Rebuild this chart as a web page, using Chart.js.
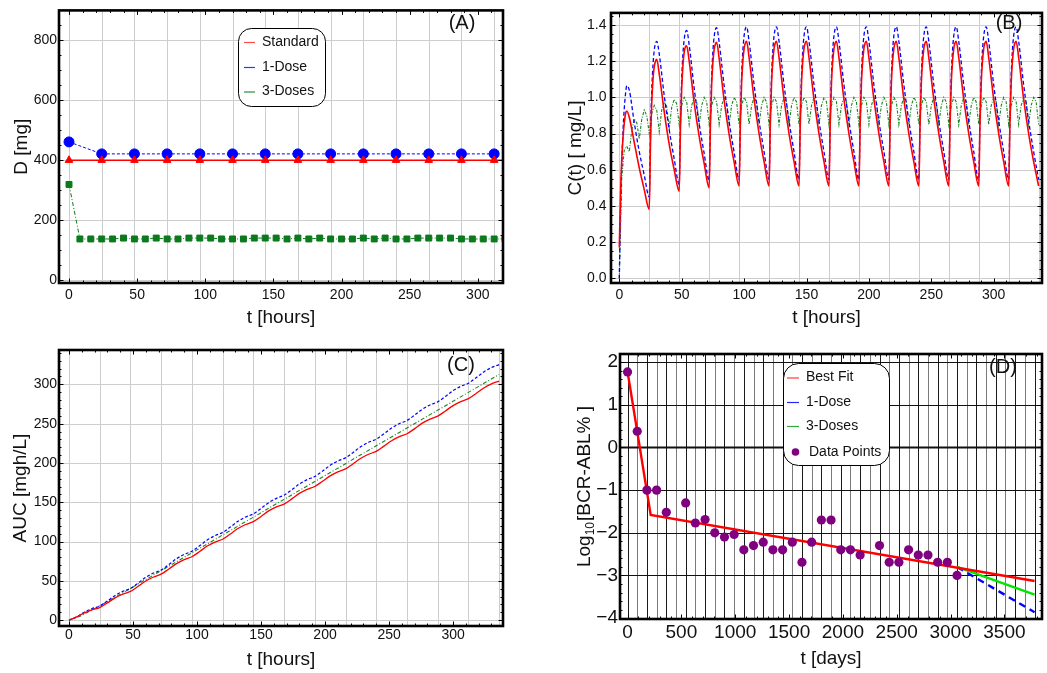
<!DOCTYPE html>
<html>
<head>
<meta charset="utf-8">
<script src="https://cdn.jsdelivr.net/npm/chart.js@4.4.1/dist/chart.umd.min.js"></script>
<style>
  html, body { margin: 0; padding: 0; background: #fff; }
  #wrap { position: relative; width: 1047px; height: 673px; overflow: hidden; background: #fff; }
  canvas { position: absolute; }
</style>
</head>
<body>
<div id="wrap">
  <canvas id="cA" width="523" height="336" style="left:0;top:0;width:523px;height:336px"></canvas>
  <canvas id="cB" width="524" height="336" style="left:523px;top:0;width:524px;height:336px"></canvas>
  <canvas id="cC" width="523" height="337" style="left:0;top:336px;width:523px;height:337px"></canvas>
  <canvas id="cD" width="524" height="337" style="left:523px;top:336px;width:524px;height:337px"></canvas>
</div>
<script>
const FONT = "'Liberation Sans', Arial, Helvetica, sans-serif";
// regular time grid helper (sampling instants, tick and grid positions)
const steps = (a, b, s) => { const out = []; for (let v = a; v <= b + 1e-9; v += s) out.push(+v.toFixed(6)); return out; };

// ---------- (A) dose per administration ----------
const hoursStandardA = steps(0, 336, 24);
const standardA = [400, 400, 400, 400, 400, 400, 400, 400, 400, 400, 400, 400, 400, 400, 400];
const hoursOneDoseA = steps(0, 312, 24);
const oneDoseA = [461, 421, 421, 421, 421, 421, 421, 421, 421, 421, 421, 421, 421, 421];
const hoursThreeDosesA = steps(0, 336, 8);
const threeDosesA = [319, 137, 137, 137, 137, 140, 137, 137, 140, 137, 137, 140, 140, 140, 137, 137, 137,
  140, 140, 140, 137, 140, 137, 140, 137, 137, 137, 140, 137, 140, 137, 137, 140, 140, 140, 140,
  137, 137, 137, 137, 137, 137, 137];
const xTicksA = [0, 50, 100, 150, 200, 250, 300];
const yTicksA = [0, 200, 400, 600, 800];

// ---------- (B) plasma concentration ----------
const hoursB = [
  0, 1, 2, 3, 4, 5, 6, 8, 12, 16, 20,
  24, 25, 26, 27, 28, 29, 30, 32, 36, 40, 44,
  48, 49, 50, 51, 52, 53, 54, 56, 60, 64, 68,
  72, 73, 74, 75, 76, 77, 78, 80, 84, 88, 92,
  96, 97, 98, 99, 100, 101, 102, 104, 108, 112, 116,
  120, 121, 122, 123, 124, 125, 126, 128, 132, 136, 140,
  144, 145, 146, 147, 148, 149, 150, 152, 156, 160, 164,
  168, 169, 170, 171, 172, 173, 174, 176, 180, 184, 188,
  192, 193, 194, 195, 196, 197, 198, 200, 204, 208, 212,
  216, 217, 218, 219, 220, 221, 222, 224, 228, 232, 236,
  240, 241, 242, 243, 244, 245, 246, 248, 252, 256, 260,
  264, 265, 266, 267, 268, 269, 270, 272, 276, 280, 284,
  288, 289, 290, 291, 292, 293, 294, 296, 300, 304, 308,
  312, 313, 314, 315, 316, 317, 318, 320, 324, 328, 332,
  336];
const standardB = [
  0.17, 0.47, 0.66, 0.78, 0.86, 0.91, 0.925, 0.89, 0.75, 0.61, 0.49,
  0.38, 0.75, 0.97, 1.10, 1.17, 1.20, 1.21, 1.13, 0.92, 0.74, 0.60,
  0.48, 0.83, 1.05, 1.18, 1.25, 1.28, 1.285, 1.20, 0.97, 0.785, 0.635,
  0.50, 0.845, 1.07, 1.195, 1.265, 1.295, 1.305, 1.215, 0.985, 0.795, 0.642,
  0.51, 0.85, 1.08, 1.20, 1.27, 1.30, 1.31, 1.22, 0.99, 0.80, 0.645,
  0.51, 0.85, 1.08, 1.20, 1.27, 1.30, 1.31, 1.22, 0.99, 0.80, 0.645,
  0.51, 0.85, 1.08, 1.20, 1.27, 1.30, 1.31, 1.22, 0.99, 0.80, 0.645,
  0.51, 0.85, 1.08, 1.20, 1.27, 1.30, 1.31, 1.22, 0.99, 0.80, 0.645,
  0.51, 0.85, 1.08, 1.20, 1.27, 1.30, 1.31, 1.22, 0.99, 0.80, 0.645,
  0.51, 0.85, 1.08, 1.20, 1.27, 1.30, 1.31, 1.22, 0.99, 0.80, 0.645,
  0.51, 0.85, 1.08, 1.20, 1.27, 1.30, 1.31, 1.22, 0.99, 0.80, 0.645,
  0.51, 0.85, 1.08, 1.20, 1.27, 1.30, 1.31, 1.22, 0.99, 0.80, 0.645,
  0.51, 0.85, 1.08, 1.20, 1.27, 1.30, 1.31, 1.22, 0.99, 0.80, 0.645,
  0.51, 0.85, 1.08, 1.20, 1.27, 1.30, 1.31, 1.22, 0.99, 0.80, 0.645,
  0.51];
const oneDoseB = [
  0.00, 0.38, 0.64, 0.82, 0.94, 1.02, 1.065, 1.04, 0.86, 0.70, 0.57,
  0.45, 0.80, 1.04, 1.18, 1.26, 1.30, 1.31, 1.24, 1.01, 0.82, 0.66,
  0.52, 0.86, 1.10, 1.24, 1.32, 1.36, 1.37, 1.29, 1.05, 0.855, 0.69,
  0.54, 0.875, 1.115, 1.255, 1.335, 1.375, 1.385, 1.305, 1.065, 0.865, 0.697,
  0.545, 0.88, 1.12, 1.26, 1.34, 1.38, 1.39, 1.31, 1.07, 0.87, 0.70,
  0.545, 0.88, 1.12, 1.26, 1.34, 1.38, 1.39, 1.31, 1.07, 0.87, 0.70,
  0.545, 0.88, 1.12, 1.26, 1.34, 1.38, 1.39, 1.31, 1.07, 0.87, 0.70,
  0.545, 0.88, 1.12, 1.26, 1.34, 1.38, 1.39, 1.31, 1.07, 0.87, 0.70,
  0.545, 0.88, 1.12, 1.26, 1.34, 1.38, 1.39, 1.31, 1.07, 0.87, 0.70,
  0.545, 0.88, 1.12, 1.26, 1.34, 1.38, 1.39, 1.31, 1.07, 0.87, 0.70,
  0.545, 0.88, 1.12, 1.26, 1.34, 1.38, 1.39, 1.31, 1.07, 0.87, 0.70,
  0.545, 0.88, 1.12, 1.26, 1.34, 1.38, 1.39, 1.31, 1.07, 0.87, 0.70,
  0.545, 0.88, 1.12, 1.26, 1.34, 1.38, 1.39, 1.31, 1.07, 0.87, 0.70,
  0.545, 0.88, 1.12, 1.26, 1.34, 1.38, 1.39, 1.31, 1.07, 0.87, 0.70,
  0.545];
const hoursThreeDosesB = steps(0, 336, 2);
const threeDosesB = [
  0.00, 0.56, 0.71, 0.73,
  0.70, 0.82, 0.88, 0.86,
  0.77, 0.88, 0.93, 0.90,
  0.80, 0.91, 0.955, 0.93,
  0.81, 0.93, 0.975, 0.95,
  0.83, 0.945, 0.99, 0.965,
  0.85, 0.955, 1.00, 0.975, 0.85, 0.955, 1.00, 0.975, 0.85, 0.955, 1.00, 0.975,
  0.85, 0.955, 1.00, 0.975, 0.85, 0.955, 1.00, 0.975, 0.85, 0.955, 1.00, 0.975,
  0.85, 0.955, 1.00, 0.975, 0.85, 0.955, 1.00, 0.975, 0.85, 0.955, 1.00, 0.975,
  0.85, 0.955, 1.00, 0.975, 0.85, 0.955, 1.00, 0.975, 0.85, 0.955, 1.00, 0.975,
  0.85, 0.955, 1.00, 0.975, 0.85, 0.955, 1.00, 0.975, 0.85, 0.955, 1.00, 0.975,
  0.85, 0.955, 1.00, 0.975, 0.85, 0.955, 1.00, 0.975, 0.85, 0.955, 1.00, 0.975,
  0.85, 0.955, 1.00, 0.975, 0.85, 0.955, 1.00, 0.975, 0.85, 0.955, 1.00, 0.975,
  0.85, 0.955, 1.00, 0.975, 0.85, 0.955, 1.00, 0.975, 0.85, 0.955, 1.00, 0.975,
  0.85, 0.955, 1.00, 0.975, 0.85, 0.955, 1.00, 0.975, 0.85, 0.955, 1.00, 0.975,
  0.85, 0.955, 1.00, 0.975, 0.85, 0.955, 1.00, 0.975, 0.85, 0.955, 1.00, 0.975,
  0.85, 0.955, 1.00, 0.975, 0.85, 0.955, 1.00, 0.975, 0.85, 0.955, 1.00, 0.975,
  0.85, 0.955, 1.00, 0.975, 0.85, 0.955, 1.00, 0.975, 0.85, 0.955, 1.00, 0.975,
  0.85];
const xTicksB = [0, 50, 100, 150, 200, 250, 300];
const yTicksB = [0, 0.2, 0.4, 0.6, 0.8, 1.0, 1.2, 1.4];

// ---------- (C) cumulative AUC ----------
const hoursC = steps(0, 336, 6);
const aucStandardC = [0,
  4.2, 9.3, 13.2, 16.0, 22.0, 28.4, 33.1, 36.6, 43.1, 49.9, 54.9, 58.5,
  65.1, 72.0, 77.1, 80.7, 87.3, 94.3, 99.4, 103.0, 109.7, 116.6, 121.7, 125.4,
  132.0, 139.0, 144.1, 147.7, 154.3, 161.3, 166.4, 170.1, 176.7, 183.6, 188.7, 192.4,
  199.0, 206.0, 211.1, 214.8, 221.4, 228.3, 233.4, 237.1, 243.7, 250.7, 255.8, 259.5,
  266.1, 273.0, 278.1, 281.8, 288.4, 295.4, 300.5, 304.2];
const aucOneDoseC = [0,
  4.3, 10.2, 14.7, 17.9, 24.4, 31.4, 36.6, 40.4, 47.2, 54.6, 60.0, 63.9,
  70.8, 78.2, 83.7, 87.7, 94.6, 102.0, 107.5, 111.5, 118.4, 125.8, 131.3, 135.2,
  142.1, 149.5, 155.0, 159.0, 165.9, 173.3, 178.8, 182.7, 189.6, 197.0, 202.5, 206.5,
  213.4, 220.8, 226.3, 230.2, 237.1, 244.5, 250.0, 254.0, 260.9, 268.3, 273.8, 277.7,
  284.6, 292.0, 297.5, 301.5, 308.4, 315.8, 321.3, 325.2];
const hoursThreeDosesC = steps(0, 336, 8);
const aucThreeDosesC = [0, 4.7, 11.3, 18.3, 25.5, 32.8, 40.3, 47.9, 55.4, 63.0, 70.5, 78.1, 85.7,
  93.2, 100.8, 108.4, 115.9, 123.5, 131.0, 138.6, 146.2, 153.7, 161.3, 168.9, 176.4, 184.0,
  191.5, 199.1, 206.7, 214.2, 221.8, 229.3, 236.9, 244.5, 252.0, 259.6, 267.2, 274.7, 282.3,
  289.8, 297.4, 305.0, 312.5];
const xTicksC = [0, 50, 100, 150, 200, 250, 300];
const yTicksC = [0, 50, 100, 150, 200, 250, 300];

// ---------- (D) BCR-ABL response ----------
const daysD = [0, 90, 180, 270, 360, 540, 630, 720, 810, 900, 990, 1080, 1170, 1260, 1350, 1440,
  1530, 1620, 1710, 1800, 1890, 1980, 2070, 2160, 2340, 2430, 2520, 2610, 2700, 2790, 2880, 2970, 3060];
const logBcrAblD = [1.77, 0.38, -1.0, -1.0, -1.52, -1.30, -1.77, -1.69, -2.0, -2.10, -2.04, -2.40,
  -2.30, -2.22, -2.40, -2.40, -2.22, -2.69, -2.22, -1.70, -1.70, -2.40, -2.40, -2.52, -2.30,
  -2.69, -2.69, -2.40, -2.52, -2.52, -2.69, -2.69, -3.0];
const fitDaysD = [0, 215, 3780];
const bestFitD = [1.78, -1.58, -3.13];
const projDaysD = [3060, 3780];
const oneDoseD = [-2.80, -3.86];
const threeDosesD = [-2.80, -3.45];
const xTicksD = [0, 500, 1000, 1500, 2000, 2500, 3000, 3500];
const yTicksD = [-4, -3, -2, -1, 0, 1, 2];

// ---------- helpers ----------
const pts = (xs, ys) => xs.map((x, i) => ({ x, y: ys[i] }));
const GRID = '#cdcdcd';

function roundRectPath(ctx, x, y, w, h, r) {
  ctx.beginPath();
  ctx.moveTo(x + r, y);
  ctx.arcTo(x + w, y, x + w, y + h, r);
  ctx.arcTo(x + w, y + h, x, y + h, r);
  ctx.arcTo(x, y + h, x, y, r);
  ctx.arcTo(x, y, x + w, y, r);
  ctx.closePath();
}

// grid, frame, frame ticks, panel tag and legend for one panel
function decor(d) {
  return {
    id: 'decor',
    beforeDatasetsDraw(chart) {
      const { ctx, chartArea: a, scales: { x, y } } = chart;
      ctx.save();
      d.vGrid.forEach((v, i) => {
        const p = Math.round(x.getPixelForValue(v)) + 0.5;
        if (p < a.left || p > a.right) return;
        ctx.strokeStyle = d.vGridColor ? d.vGridColor(i) : GRID;
        ctx.lineWidth = 1;
        ctx.beginPath(); ctx.moveTo(p, a.top); ctx.lineTo(p, a.bottom); ctx.stroke();
      });
      d.hGrid.forEach((v) => {
        const p = Math.round(y.getPixelForValue(v)) + 0.5;
        if (p < a.top - 1 || p > a.bottom + 1) return;
        ctx.strokeStyle = d.hGridColor || GRID;
        ctx.lineWidth = d.hGridWidth ? d.hGridWidth(v) : 1;
        ctx.beginPath(); ctx.moveTo(a.left, p); ctx.lineTo(a.right, p); ctx.stroke();
      });
      ctx.restore();
    },
    afterDatasetsDraw(chart) {
      const { ctx, chartArea: a, scales: { x, y } } = chart;
      ctx.save();
      ctx.strokeStyle = '#000';
      ctx.lineWidth = 1;
      const tickX = (vals, len) => vals.forEach(v => {
        const p = Math.round(x.getPixelForValue(v)) + 0.5;
        if (p < a.left + 2 || p > a.right - 2) return;
        ctx.beginPath();
        ctx.moveTo(p, a.bottom); ctx.lineTo(p, a.bottom - len);
        ctx.moveTo(p, a.top); ctx.lineTo(p, a.top + len);
        ctx.stroke();
      });
      const tickY = (vals, len) => vals.forEach(v => {
        const p = Math.round(y.getPixelForValue(v)) + 0.5;
        if (p < a.top + 2 || p > a.bottom - 2) return;
        ctx.beginPath();
        ctx.moveTo(a.left, p); ctx.lineTo(a.left + len, p);
        ctx.moveTo(a.right, p); ctx.lineTo(a.right - len, p);
        ctx.stroke();
      });
      tickX(d.xMinor, 2.5); tickX(d.xMajor, 4.5);
      tickY(d.yMinor, 2.5); tickY(d.yMajor, 4.5);

      // frame
      ctx.lineWidth = 2.6;
      ctx.strokeRect(a.left, a.top, a.right - a.left, a.bottom - a.top);

      // panel tag
      ctx.fillStyle = '#111';
      ctx.font = `20px ${FONT}`;
      ctx.textAlign = 'center';
      ctx.textBaseline = 'middle';
      ctx.fillText(d.tag.text, d.tag.x, d.tag.y);

      // legend box
      if (d.legend) {
        const L = d.legend;
        roundRectPath(ctx, L.x + 0.5, L.y + 0.5, L.w, L.h, L.r);
        ctx.fillStyle = '#fff';
        ctx.fill();
        ctx.strokeStyle = '#000';
        ctx.lineWidth = 1;
        ctx.stroke();
        ctx.font = `14px ${FONT}`;
        ctx.textAlign = 'left';
        ctx.textBaseline = 'middle';
        L.items.forEach(it => {
          if (it.dot) {
            ctx.fillStyle = it.color;
            ctx.beginPath(); ctx.arc(L.dotX, it.y, 3.8, 0, Math.PI * 2); ctx.fill();
            ctx.fillStyle = '#111';
            ctx.fillText(it.text, L.dotTextX, it.y);
          } else {
            ctx.strokeStyle = it.color;
            ctx.lineWidth = 1.2;
            ctx.beginPath(); ctx.moveTo(L.swX, it.y + 0.5); ctx.lineTo(L.swX + L.swW, it.y + 0.5); ctx.stroke();
            ctx.fillStyle = '#111';
            ctx.fillText(it.text, L.textX, it.y);
          }
        });
      }
      ctx.restore();
    },
    afterDraw(chart) {
      if (d.yTitleDraw) d.yTitleDraw(chart);
    }
  };
}

function axis(a, dir) {
  return {
    type: 'linear',
    min: a.min, max: a.max,
    grid: { display: false, drawTicks: false },
    border: { display: false },
    afterBuildTicks: s => { s.ticks = a.labels.map(v => ({ value: v })); },
    afterFit: s => { if (dir === 'x') s.height = a.size; else s.width = a.size; },
    ticks: {
      autoSkip: false, maxRotation: 0, color: '#111', padding: a.tickPad,
      font: { family: FONT, size: a.tickSize },
      callback: a.fmt || (v => String(v))
    },
    title: a.title ? {
      display: true, text: a.title, color: '#111',
      font: { family: FONT, size: a.titleSize },
      padding: dir === 'x' ? { top: 0, bottom: a.titlePad } : { top: a.titlePad, bottom: 0 }
    } : { display: false }
  };
}

function panel(id, cfg) {
  return new Chart(document.getElementById(id), {
    type: 'line',
    data: { datasets: cfg.datasets },
    options: {
      responsive: false, animation: false, events: [],
      layout: { padding: cfg.padding },
      plugins: { legend: { display: false }, tooltip: { enabled: false } },
      scales: { x: axis(cfg.x, 'x'), y: axis(cfg.y, 'y') }
    },
    plugins: [decor(cfg.decor)]
  });
}

const line = (data, color, width, dash, extra) => Object.assign({
  data, borderColor: color, backgroundColor: color, borderWidth: width,
  borderDash: dash || [], pointRadius: 0, fill: false, tension: 0
}, extra || {});

// ---------- (A) ----------
panel('cA', {
  padding: { left: 0, top: 10, right: 20, bottom: 0 },
  x: { min: -7.34, max: 318.5, labels: xTicksA, size: 53, tickPad: 3.3, tickSize: 14,
       title: 't [hours]', titleSize: 19, titlePad: 6.6 },
  y: { min: -10, max: 900, labels: yTicksA, size: 59, tickPad: 2, tickSize: 14,
       title: 'D [mg]', titleSize: 19, titlePad: 10.3 },
  datasets: [
    line(pts(hoursStandardA, standardA), '#ff0000', 1.5, [], { pointStyle: 'triangle', pointRadius: 4.4, pointBorderWidth: 1 }),
    line(pts(hoursOneDoseA, oneDoseA), '#0000ff', 1, [3, 2], { pointStyle: 'circle', pointRadius: 5, pointBorderWidth: 1 }),
    line(pts(hoursThreeDosesA, threeDosesA), '#0b7a1c', 1, [4, 2, 1, 2], { pointStyle: 'rect', pointRadius: 4.2, pointBorderWidth: 1 })
  ],
  decor: {
    vGrid: steps(0, 336, 24), hGrid: yTicksA,
    xMajor: xTicksA, xMinor: steps(0, 320, 10), yMajor: yTicksA, yMinor: steps(0, 900, 50),
    tag: { text: '(A)', x: 462, y: 23 },
    legend: {
      x: 238, y: 28, w: 87, h: 78, r: 13, swX: 244, swW: 11, textX: 262,
      items: [
        { text: 'Standard', color: '#ff4d4d', y: 42 },
        { text: '1-Dose', color: '#3333ff', y: 67 },
        { text: '3-Doses', color: '#2e8b3a', y: 91.5 }
      ]
    }
  }
});

// ---------- (B) ----------
panel('cB', {
  padding: { left: 0, top: 10, right: 5, bottom: 0 },
  x: { min: -6.65, max: 338.7, labels: xTicksB, size: 53, tickPad: 3.3, tickSize: 14,
       title: 't [hours]', titleSize: 19, titlePad: 7 },
  y: { min: -0.026, max: 1.467, labels: yTicksB, size: 88, tickPad: 4.5, tickSize: 14,
       fmt: v => v.toFixed(1), title: 'C(t) [ mg/L]', titleSize: 19, titlePad: 41 },
  datasets: [
    line(pts(hoursB, standardB), '#ff0000', 1.6, [], { cubicInterpolationMode: 'monotone' }),
    line(pts(hoursB, oneDoseB), '#0000ff', 1.3, [4, 2.5], { cubicInterpolationMode: 'monotone' }),
    line(pts(hoursThreeDosesB, threeDosesB), '#17851f', 1.1, [3, 1.5, 1, 1.5])
  ],
  decor: {
    vGrid: steps(0, 336, 24), hGrid: yTicksB,
    xMajor: xTicksB, xMinor: steps(0, 330, 10), yMajor: yTicksB, yMinor: steps(0, 1.45, 0.05),
    tag: { text: '(B)', x: 486, y: 23 }
  }
});

// ---------- (C) ----------
panel('cC', {
  padding: { left: 0, top: 14, right: 20, bottom: 0 },
  x: { min: -7.8, max: 339, labels: xTicksC, size: 47, tickPad: 1.2, tickSize: 14,
       title: 't [hours]', titleSize: 19, titlePad: 1.6 },
  y: { min: -7.4, max: 343.7, labels: yTicksC, size: 59, tickPad: 2, tickSize: 14,
       title: 'AUC [mgh/L]', titleSize: 19, titlePad: 9.6 },
  datasets: [
    line(pts(hoursC, aucStandardC), '#ff0000', 1.3, [], { cubicInterpolationMode: 'monotone' }),
    line(pts(hoursC, aucOneDoseC), '#0000ff', 1.2, [3, 2], { cubicInterpolationMode: 'monotone' }),
    line(pts(hoursThreeDosesC, aucThreeDosesC), '#17851f', 1.1, [4, 2, 1, 2], { cubicInterpolationMode: 'monotone' })
  ],
  decor: {
    vGrid: steps(0, 336, 24), hGrid: yTicksC,
    xMajor: xTicksC, xMinor: steps(0, 330, 10), yMajor: yTicksC, yMinor: steps(0, 340, 10),
    tag: { text: '(C)', x: 461, y: 29 }
  }
});

// ---------- (D) ----------
panel('cD', {
  padding: { left: 0, top: 18, right: 5, bottom: 0 },
  x: { min: -70, max: 3849, labels: xTicksD, size: 54, tickPad: 2.6, tickSize: 19,
       title: 't [days]', titleSize: 19, titlePad: 2.6 },
  y: { min: -4.02, max: 2.19, labels: yTicksD, size: 97, tickPad: 2, tickSize: 19,
       fmt: v => (v < 0 ? '\u2212' + Math.abs(v) : String(v)) },
  datasets: [
    line(pts(daysD, logBcrAblD), '#800080', 0, [], { showLine: false, pointStyle: 'circle', pointRadius: 4.6, pointBorderWidth: 0 }),
    line(pts(fitDaysD, bestFitD), '#ff0000', 2.4),
    line(pts(projDaysD, threeDosesD), '#00e600', 2.4),
    line(pts(projDaysD, oneDoseD), '#0000ff', 2.4, [7, 5])
  ],
  decor: {
    vGrid: steps(0, 3870, 90), vGridColor: i => (i % 2 === 0 ? '#1a1a1a' : '#7a7a7a'),
    hGrid: yTicksD, hGridColor: '#111', hGridWidth: v => (v === 0 ? 2 : 1),
    xMajor: xTicksD, xMinor: steps(0, 3800, 100), yMajor: yTicksD, yMinor: steps(-4, 2.2, 0.2),
    tag: { text: '(D)', x: 480, y: 31 },
    legend: {
      x: 260, y: 27, w: 106, h: 102, r: 15, swX: 264, swW: 12, textX: 283,
      dotX: 272.5, dotTextX: 286,
      items: [
        { text: 'Best Fit', color: '#ff3b3b', y: 41.5 },
        { text: '1-Dose', color: '#2424ff', y: 66 },
        { text: '3-Doses', color: '#2fa83a', y: 90 },
        { text: 'Data Points', color: '#800080', y: 116, dot: true }
      ]
    },
    // rotated axis title with subscripted base
    yTitleDraw(chart) {
      const { ctx, chartArea: a } = chart;
      ctx.save();
      ctx.translate(60, (a.top + a.bottom) / 2);
      ctx.rotate(-Math.PI / 2);
      ctx.fillStyle = '#111';
      ctx.textBaseline = 'alphabetic';
      ctx.textAlign = 'left';
      const big = `19px ${FONT}`, small = `12px ${FONT}`;
      const p1 = 'Log', p2 = '10', p3 = '[BCR-ABL% ]';
      ctx.font = big; const w1 = ctx.measureText(p1).width, w3 = ctx.measureText(p3).width;
      ctx.font = small; const w2 = ctx.measureText(p2).width;
      let xx = -(w1 + w2 + 1 + w3) / 2;
      ctx.font = big; ctx.fillText(p1, xx, 7); xx += w1;
      ctx.font = small; ctx.fillText(p2, xx, 11); xx += w2 + 1;
      ctx.font = big; ctx.fillText(p3, xx, 7);
      ctx.restore();
    }
  }
});
</script>
</body>
</html>
